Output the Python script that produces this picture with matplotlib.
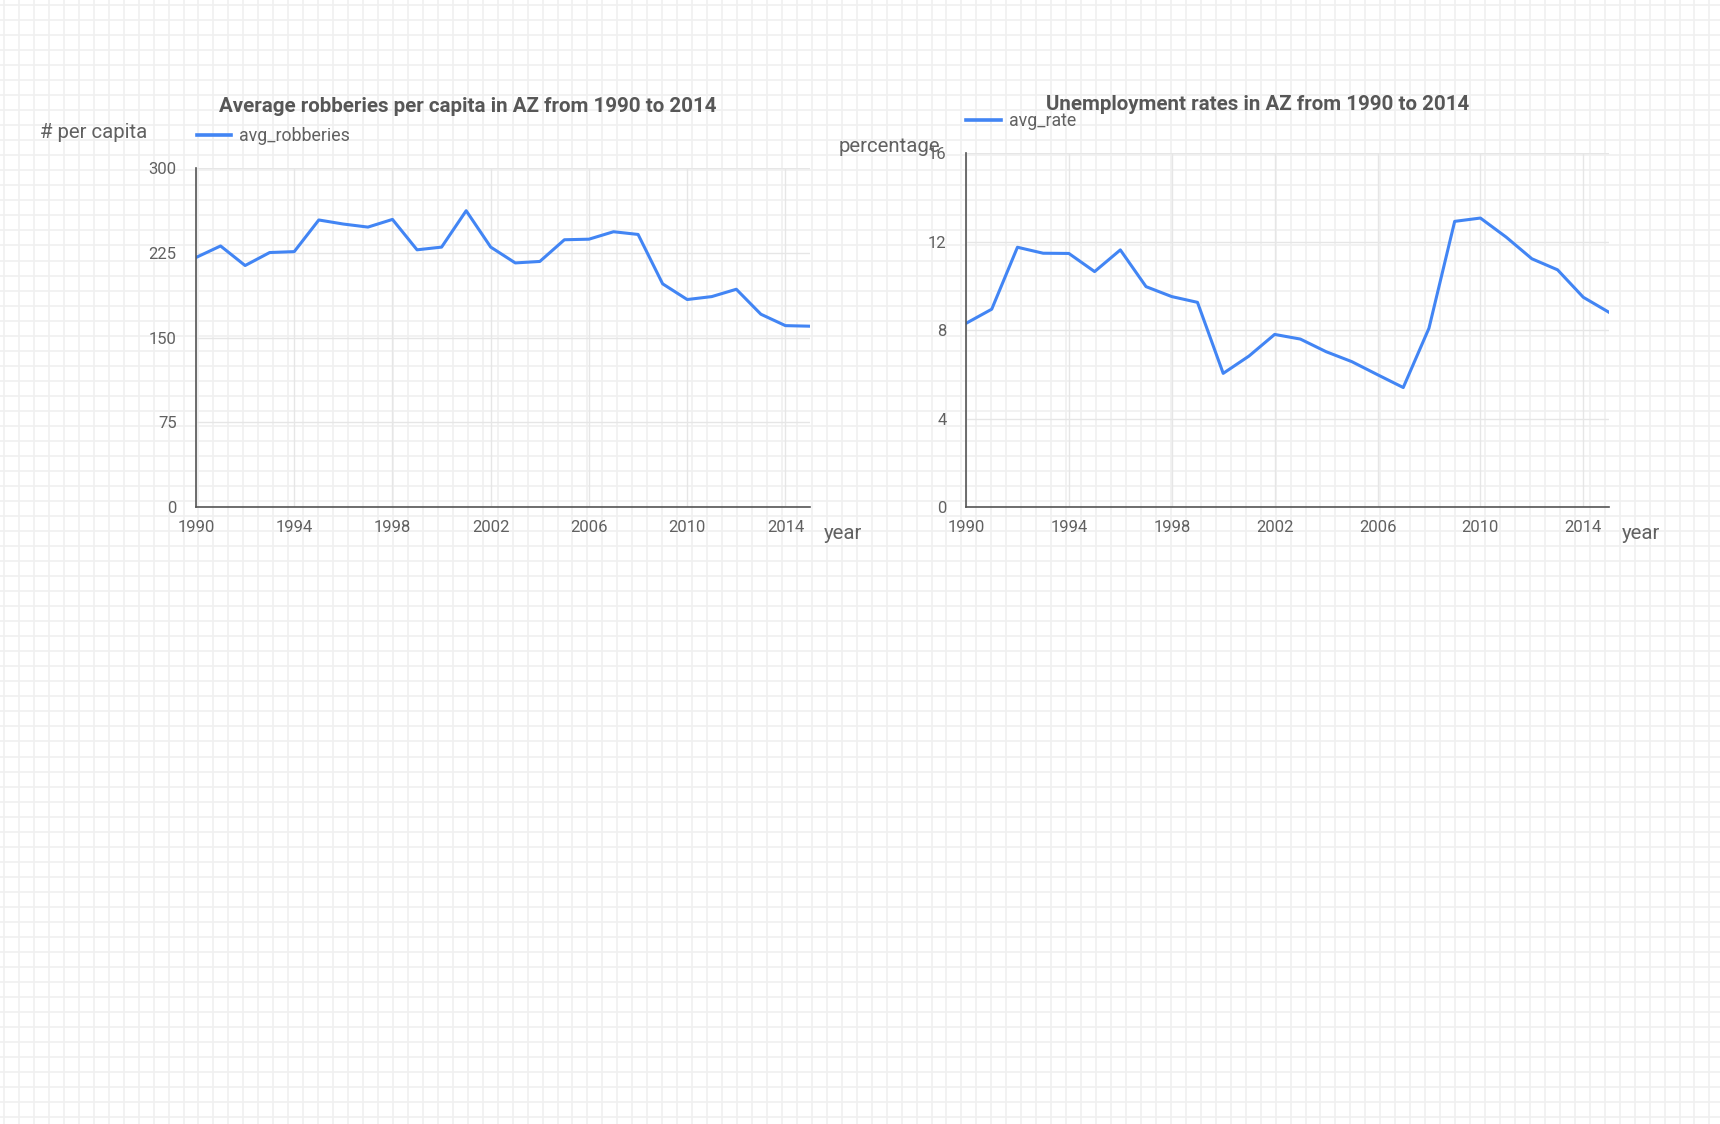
import matplotlib
matplotlib.use("Agg")
import matplotlib.pyplot as plt
import numpy as np

plt.rcParams['font.family'] = ['Roboto', 'DejaVu Sans']

years = list(range(1990, 2016))
avg_robberies = [220.8, 231, 213.7, 225.2, 226, 254, 250.4, 247.7, 254.5, 227.6,
                 230, 262.2, 230, 216, 217.3, 236.5, 237, 243.6, 241.2, 197.5,
                 183.6, 186.2, 192.7, 170.6, 160.5, 160]
avg_rate = [8.30, 8.94, 11.74, 11.47, 11.46, 10.64, 11.62, 9.96, 9.51, 9.25,
            6.04, 6.82, 7.80, 7.59, 7.02, 6.57, 5.98, 5.40, 8.08, 12.91,
            13.06, 12.20, 11.22, 10.72, 9.48, 8.80]
x_ticks = [1990, 1994, 1998, 2002, 2006, 2010, 2014]
rob_ticks = [0, 75, 150, 225, 300]
rate_ticks = [0, 4, 8, 12, 16]

W, H = 1720, 1124
BLUE = '#4285F4'
TXT = '#616161'

fig = plt.figure(figsize=(W / 100, H / 100), dpi=100)
fig.patch.set_facecolor('white')

# graph paper background
bg = fig.add_axes([0, 0, 1, 1], zorder=-10)
bg.set_xlim(0, W)
bg.set_ylim(H, 0)
bg.axis('off')
for gx in np.arange(4, W, 14.96):
    bg.axvline(gx, color='#f0f0f0', lw=1.2)
for gy in np.arange(5, H, 15.03):
    bg.axhline(gy, color='#f0f0f0', lw=1.2)


def make_panel(rect, y, ticks, leg):
    ax = fig.add_axes(rect)
    ax.patch.set_alpha(0)
    ax.plot(years, y, color=BLUE, lw=2.2, label=leg)
    ax.set_xlim(1990, 2015)
    ax.set_ylim(ticks[0], ticks[-1])
    ax.set_xticks(x_ticks)
    ax.set_yticks(ticks)
    ax.tick_params(length=0, labelsize=12, labelcolor=TXT)
    ax.tick_params(axis='y', pad=14)
    ax.tick_params(axis='x', pad=9)
    ax.grid(True, color='#e6e6e6', lw=1)
    for s in ['top', 'right']:
        ax.spines[s].set_visible(False)
    for s in ['left', 'bottom']:
        ax.spines[s].set_color('#555555')
        ax.spines[s].set_linewidth(1.2)
    return ax


ax1 = make_panel([196 / W, 1 - 507 / H, 614 / W, 339 / H], avg_robberies, rob_ticks, 'avg_robberies')
ax2 = make_panel([966 / W, 1 - 507 / H, 643 / W, 354 / H], avg_rate, rate_ticks, 'avg_rate')


# titles, axis names and legends placed in figure pixels
def ftext(x, y, s, **kw):
    fig.text(x / W, 1 - y / H, s, **kw)


ftext(468, 106, 'Average robberies per capita in AZ from 1990 to 2014', ha='center', va='center',
      fontsize=14.8, fontweight='bold', color='#575757')
ftext(1258, 104, 'Unemployment rates in AZ from 1990 to 2014', ha='center', va='center',
      fontsize=14.8, fontweight='bold', color='#575757')

ftext(40, 133, '# per capita', ha='left', va='center', fontsize=14.7, color=TXT)
ftext(839, 147, 'percentage', ha='left', va='center', fontsize=14.7, color=TXT)
ftext(824, 533, 'year', ha='left', va='center', fontsize=14.7, color=TXT)
ftext(1622, 533, 'year', ha='left', va='center', fontsize=14.7, color=TXT)

bg.plot([197, 231], [135, 135], color=BLUE, lw=2.6)
ftext(239, 136, 'avg_robberies', ha='left', va='center', fontsize=12.8, color=TXT)
bg.plot([966, 1001], [120, 120], color=BLUE, lw=2.6)
ftext(1009, 121, 'avg_rate', ha='left', va='center', fontsize=12.8, color=TXT)

fig.savefig('out.png', dpi=100)
